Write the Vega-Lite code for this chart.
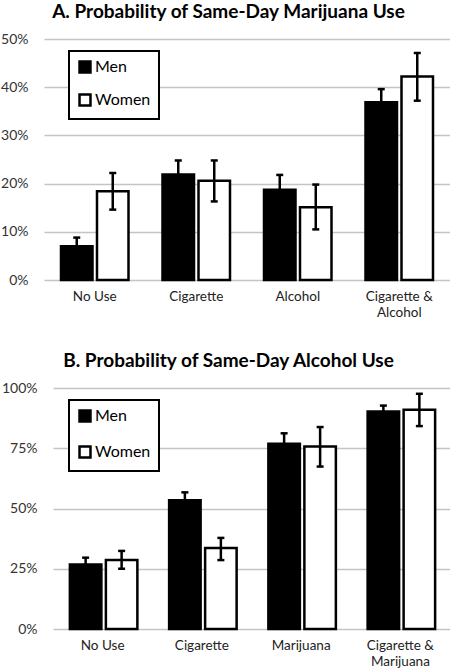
{
  "$schema": "https://vega.github.io/schema/vega-lite/v6.json",
  "background": "white",
  "padding": {"left": 0, "top": 3, "right": 0, "bottom": 0},
  "spacing": 33,
  "datasets": {
    "marijuana": [
      {"context": "No Use", "sex": "Men", "p": 0.070, "lo": 0.053, "hi": 0.088},
      {"context": "No Use", "sex": "Women", "p": 0.184, "lo": 0.146, "hi": 0.222},
      {"context": "Cigarette", "sex": "Men", "p": 0.219, "lo": 0.190, "hi": 0.248},
      {"context": "Cigarette", "sex": "Women", "p": 0.206, "lo": 0.163, "hi": 0.248},
      {"context": "Alcohol", "sex": "Men", "p": 0.187, "lo": 0.156, "hi": 0.218},
      {"context": "Alcohol", "sex": "Women", "p": 0.151, "lo": 0.105, "hi": 0.198},
      {"context": "Cigarette & Alcohol", "sex": "Men", "p": 0.369, "lo": 0.342, "hi": 0.396},
      {"context": "Cigarette & Alcohol", "sex": "Women", "p": 0.422, "lo": 0.372, "hi": 0.471}
    ],
    "alcohol": [
      {"context": "No Use", "sex": "Men", "p": 0.268, "lo": 0.240, "hi": 0.296},
      {"context": "No Use", "sex": "Women", "p": 0.286, "lo": 0.250, "hi": 0.324},
      {"context": "Cigarette", "sex": "Men", "p": 0.534, "lo": 0.501, "hi": 0.567},
      {"context": "Cigarette", "sex": "Women", "p": 0.336, "lo": 0.286, "hi": 0.378},
      {"context": "Marijuana", "sex": "Men", "p": 0.769, "lo": 0.726, "hi": 0.812},
      {"context": "Marijuana", "sex": "Women", "p": 0.757, "lo": 0.674, "hi": 0.838},
      {"context": "Cigarette & Marijuana", "sex": "Men", "p": 0.902, "lo": 0.877, "hi": 0.927},
      {"context": "Cigarette & Marijuana", "sex": "Women", "p": 0.910, "lo": 0.842, "hi": 0.976}
    ]
  },
  "config": {
    "font": "Lato",
    "view": {"stroke": null},
    "title": {"font": "Lato", "fontSize": 19, "fontWeight": "bold", "color": "black", "frame": "group", "anchor": "middle", "offset": 10},
    "axisY": {"domain": false, "ticks": false, "grid": true, "gridColor": "#c4c4c4", "gridWidth": 1.5, "labelFont": "Lato", "labelFontSize": 14, "labelColor": "#333333", "labelPadding": 16},
    "axisX": {"domain": false, "ticks": false, "grid": false, "labelFont": "Lato", "labelFontSize": 13.5, "labelColor": "#222222", "labelPadding": 9, "labelAngle": 0, "labelLineHeight": 16},
    "legend": {"strokeColor": "black", "strokeWidth": 2, "labelFont": "Lato", "labelFontSize": 16, "labelColor": "black", "symbolType": "square", "symbolSize": 120, "symbolStrokeColor": "black", "symbolStrokeWidth": 2.5, "labelOffset": 2, "fillColor": "white"}
  },
  "vconcat": [
    {
      "width": 397,
      "height": 241,
      "title": {"text": "A. Probability of Same-Day Marijuana Use", "dx": -23},
      "data": {"name": "marijuana"},
      "encoding": {
        "x": {"field": "context", "type": "nominal", "title": null,
              "sort": ["No Use", "Cigarette", "Alcohol", "Cigarette & Alcohol"],
              "scale": {"range": [-9, 397], "paddingInner": 0.335, "paddingOuter": 0.1675},
              "axis": {"labelExpr": "datum.label == 'Cigarette & Alcohol' ? ['Cigarette &', 'Alcohol'] : datum.label"}},
        "xOffset": {"field": "sex", "type": "nominal", "sort": ["Men", "Women"], "scale": {"paddingInner": 0.125, "paddingOuter": 0}}
      },
      "layer": [
        {
          "mark": {"type": "bar", "stroke": "black", "strokeWidth": 2.5},
          "encoding": {
            "y": {"field": "p", "type": "quantitative", "title": null, "scale": {"domain": [0, 0.5]},
                  "axis": {"format": "%", "values": [0, 0.1, 0.2, 0.3, 0.4, 0.5], "labelPadding": 25}},
            "fill": {"field": "sex", "type": "nominal", "scale": {"domain": ["Men", "Women"], "range": ["black", "white"]},
                     "legend": {"title": null, "orient": "none", "legendX": 16, "legendY": 12, "padding": 8, "rowPadding": 11}}
          }
        },
        {
          "mark": {"type": "rule", "strokeWidth": 2.5, "color": "black"},
          "encoding": {"y": {"field": "lo", "type": "quantitative"}, "y2": {"field": "hi"}}
        },
        {
          "mark": {"type": "tick", "thickness": 2.5, "size": 7, "color": "black", "opacity": 1},
          "encoding": {"y": {"field": "hi", "type": "quantitative"}}
        },
        {
          "mark": {"type": "tick", "thickness": 2.5, "size": 7, "color": "black", "opacity": 1},
          "encoding": {"y": {"field": "lo", "type": "quantitative"}}
        }
      ]
    },
    {
      "width": 397,
      "height": 241,
      "title": {"text": "B. Probability of Same-Day Alcohol Use", "dx": -23},
      "data": {"name": "alcohol"},
      "encoding": {
        "x": {"field": "context", "type": "nominal", "title": null,
              "sort": ["No Use", "Cigarette", "Marijuana", "Cigarette & Marijuana"],
              "scale": {"paddingInner": 0.34, "paddingOuter": 0.17},
              "axis": {"labelExpr": "datum.label == 'Cigarette & Marijuana' ? ['Cigarette &', 'Marijuana'] : datum.label"}},
        "xOffset": {"field": "sex", "type": "nominal", "sort": ["Men", "Women"], "scale": {"paddingInner": 0.15, "paddingOuter": 0}}
      },
      "layer": [
        {
          "mark": {"type": "bar", "stroke": "black", "strokeWidth": 2.5},
          "encoding": {
            "y": {"field": "p", "type": "quantitative", "title": null, "scale": {"domain": [0, 1]},
                  "axis": {"format": "%", "values": [0, 0.25, 0.5, 0.75, 1]}},
            "fill": {"field": "sex", "type": "nominal", "scale": {"domain": ["Men", "Women"], "range": ["black", "white"]},
                     "legend": {"title": null, "orient": "none", "legendX": 16, "legendY": 12, "padding": 8, "rowPadding": 14}}
          }
        },
        {
          "mark": {"type": "rule", "strokeWidth": 2.5, "color": "black"},
          "encoding": {"y": {"field": "lo", "type": "quantitative"}, "y2": {"field": "hi"}}
        },
        {
          "mark": {"type": "tick", "thickness": 2.5, "size": 7, "color": "black", "opacity": 1},
          "encoding": {"y": {"field": "hi", "type": "quantitative"}}
        },
        {
          "mark": {"type": "tick", "thickness": 2.5, "size": 7, "color": "black", "opacity": 1},
          "encoding": {"y": {"field": "lo", "type": "quantitative"}}
        }
      ]
    }
  ],
  "resolve": {"scale": {"fill": "independent"}}
}
